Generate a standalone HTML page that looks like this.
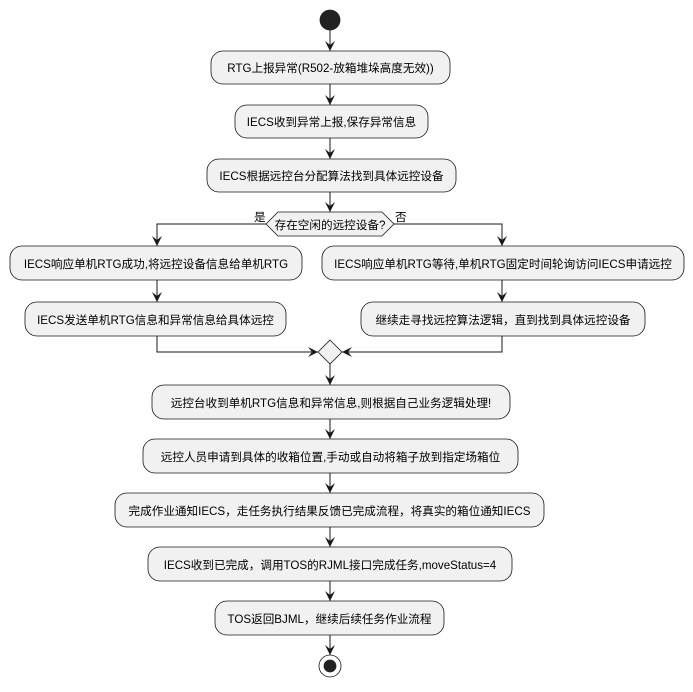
<!DOCTYPE html>
<html><head><meta charset="utf-8"><style>
html,body{margin:0;padding:0;background:#fff;}
svg text{font-family:"Liberation Sans","Noto Sans CJK SC",sans-serif;font-size:11.6px;fill:#000;}
</style></head><body>
<svg width="693" height="687" viewBox="0 0 693 687" xmlns="http://www.w3.org/2000/svg">
<defs>
<marker id="a" viewBox="0 0 10 10" refX="10" refY="5" markerWidth="10" markerHeight="10" orient="auto" markerUnits="userSpaceOnUse">
<path d="M0,0 L10,5 L0,10 L4,5 Z" fill="#181818"/>
</marker>
</defs>
<g stroke="#181818" fill="#F1F1F1" stroke-width="0.8">
<circle cx="330" cy="20" r="10" fill="#222" stroke="#222"/>
<rect x="211" y="51" width="239" height="33" rx="12"/>
<rect x="235" y="105" width="193" height="33" rx="12"/>
<rect x="207" y="159" width="249" height="33" rx="12"/>
<polygon points="278,212 382,212 394,224 382,236 278,236 266,224"/>
<rect x="10" y="246" width="292" height="34" rx="12"/>
<rect x="322" y="246" width="362" height="34" rx="12"/>
<rect x="25" y="302" width="261" height="34" rx="12"/>
<rect x="361" y="302" width="284" height="34" rx="12"/>
<polygon points="330,340 342,352 330,364 318,352"/>
<rect x="152" y="385" width="358" height="34" rx="12"/>
<rect x="143" y="439" width="375" height="34" rx="12"/>
<rect x="115" y="493" width="429" height="34" rx="12"/>
<rect x="148" y="547" width="364" height="34" rx="12"/>
<rect x="215" y="601" width="229" height="34" rx="12"/>
<circle cx="330" cy="666" r="11" fill="#fff"/>
<circle cx="330" cy="666" r="6" fill="#222" stroke="#222"/>
</g>
<g stroke="#181818" fill="none" stroke-width="1" marker-end="url(#a)">
<line x1="330" y1="30" x2="330" y2="51"/>
<line x1="330" y1="84" x2="330" y2="105"/>
<line x1="330" y1="138" x2="330" y2="159"/>
<line x1="330" y1="192" x2="330" y2="212"/>
<polyline points="266,224 157,224 157,246"/>
<polyline points="394,224 502,224 502,246"/>
<line x1="157" y1="280" x2="157" y2="302"/>
<line x1="502" y1="280" x2="502" y2="302"/>
<polyline points="157,336 157,352 318,352"/>
<polyline points="502,336 502,352 342,352"/>
<line x1="330" y1="364" x2="330" y2="385"/>
<line x1="330" y1="419" x2="330" y2="439"/>
<line x1="330" y1="473" x2="330" y2="493"/>
<line x1="330" y1="527" x2="330" y2="547"/>
<line x1="330" y1="581" x2="330" y2="601"/>
<line x1="330" y1="635" x2="330" y2="655"/>
</g>
<g text-anchor="middle">
<text x="330.5" y="72">RTG上报异常(R502-放箱堆垛高度无效))</text>
<text x="331.5" y="126">IECS收到异常上报,保存异常信息</text>
<text x="331.5" y="180">IECS根据远控台分配算法找到具体远控设备</text>
<text x="330" y="229">存在空闲的远控设备?</text>
<text x="156" y="268">IECS响应单机RTG成功,将远控设备信息给单机RTG</text>
<text x="503" y="268">IECS响应单机RTG等待,单机RTG固定时间轮询访问IECS申请远控</text>
<text x="155.5" y="324">IECS发送单机RTG信息和异常信息给具体远控</text>
<text x="503" y="324">继续走寻找远控算法逻辑，直到找到具体远控设备</text>
<text x="331" y="407">远控台收到单机RTG信息和异常信息,则根据自己业务逻辑处理!</text>
<text x="330.5" y="461">远控人员申请到具体的收箱位置,手动或自动将箱子放到指定场箱位</text>
<text x="329.5" y="515">完成作业通知IECS，走任务执行结果反馈已完成流程，将真实的箱位通知IECS</text>
<text x="330" y="569">IECS收到已完成，调用TOS的RJML接口完成任务,moveStatus=4</text>
<text x="329.5" y="623">TOS返回BJML，继续后续任务作业流程</text>
</g>
<text x="254" y="221">是</text>
<text x="395" y="221">否</text>
</svg>
</body></html>
